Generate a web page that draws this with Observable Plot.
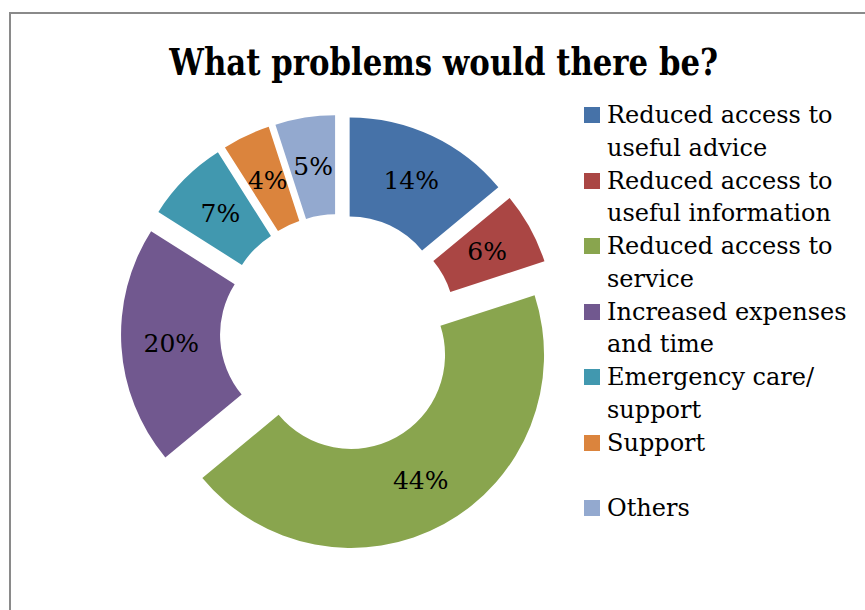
<!DOCTYPE html>
<html>
<head>
<meta charset="utf-8">
<script src="https://cdn.jsdelivr.net/npm/d3@7"></script>
<script src="https://cdn.jsdelivr.net/npm/@observablehq/plot@0.6"></script>
<style>
  body { margin: 0; background: #fff; }
  #wrap { position: relative; width: 865px; height: 610px; overflow: hidden; font-family: "DejaVu Serif", serif; background: #fff; }
  #wrap svg { position: absolute; left: 0; top: 0; }
  #frame { position: absolute; left: 9px; top: 12px; width: 900px; height: 700px; border-left: 2px solid #8a8a8a; border-top: 2px solid #8a8a8a; box-sizing: border-box; }
  #title { position: absolute; left: 0; width: 888px; top: 40px; line-height: 44px; text-align: center; color: #000; white-space: nowrap; }
  #title span { display: inline-block; font-weight: bold; font-size: 38px; transform: scaleX(0.81); transform-origin: 50% 50%; }
  #legend { position: absolute; left: 584px; top: 99px; }
  .item { position: relative; height: 65.5px; }
  .sw { position: absolute; left: 0; top: 8px; width: 16px; height: 16px; }
  .lab { position: absolute; left: 23px; top: 0; font-size: 24px; line-height: 32.75px; white-space: pre; color: #000; }
</style>
</head>
<body>
<div id="wrap">
  <div id="frame"></div>
  <div id="title"><span></span></div>
  <div id="legend"></div>
</div>
<script>
const title = "What problems would there be?";
const categories = [
  "Reduced access to\nuseful advice",
  "Reduced access to\nuseful information",
  "Reduced access to\nservice",
  "Increased expenses\nand time",
  "Emergency care/\nsupport",
  "Support",
  "Others"
];
const values = [14, 6, 44, 20, 7, 4, 5];
const colors = ["#4672A8", "#AA4644", "#89A54E", "#71588F", "#4198AF", "#DB843D", "#93A9CF"];

const data = categories.map((c, i) => ({category: c, value: values[i]}));

// layout of the doughnut
const W = 865, H = 610;
const cx = 339, cy = 333, rOuter = 193, rInner = 94, explode = 25;

const arcs = d3.pie().sort(null).value(d => d.value)(data);
const mid = d => (d.startAngle + d.endAngle) / 2;
const labelR = explode + (rOuter + rInner) / 2;

function slices(index, scales) {
  const g = d3.create("svg:g");
  const arc = d3.arc().innerRadius(rInner).outerRadius(rOuter);
  g.selectAll("path").data(arcs).join("path")
    .attr("d", arc)
    .attr("fill", d => scales.color(d.data.category))
    .attr("transform", d => {
      const m = mid(d);
      return `translate(${scales.x(cx + explode * Math.sin(m))},${scales.y(cy - explode * Math.cos(m))})`;
    });
  return g.node();
}

const chart = Plot.plot({
  width: W,
  height: H,
  margin: 0,
  x: {domain: [0, W], range: [0, W], axis: null},
  y: {domain: [0, H], range: [0, H], axis: null},
  color: {domain: categories, range: colors},
  style: {fontFamily: "DejaVu Serif", background: "transparent"},
  marks: [
    slices,
    Plot.text(arcs, {
      x: d => cx + labelR * Math.sin(mid(d)),
      y: d => cy - labelR * Math.cos(mid(d)),
      text: d => d.data.value + "%",
      fontSize: 25,
      fill: "#000"
    })
  ]
});

const wrap = document.getElementById("wrap");
wrap.insertBefore(chart, wrap.firstChild);
document.querySelector("#title span").textContent = title;

const legend = d3.select("#legend");
const items = legend.selectAll(".item").data(data).join("div").attr("class", "item");
items.append("div").attr("class", "sw").style("background", (d, i) => colors[i]);
items.append("div").attr("class", "lab").text(d => d.category);
</script>
</body>
</html>
